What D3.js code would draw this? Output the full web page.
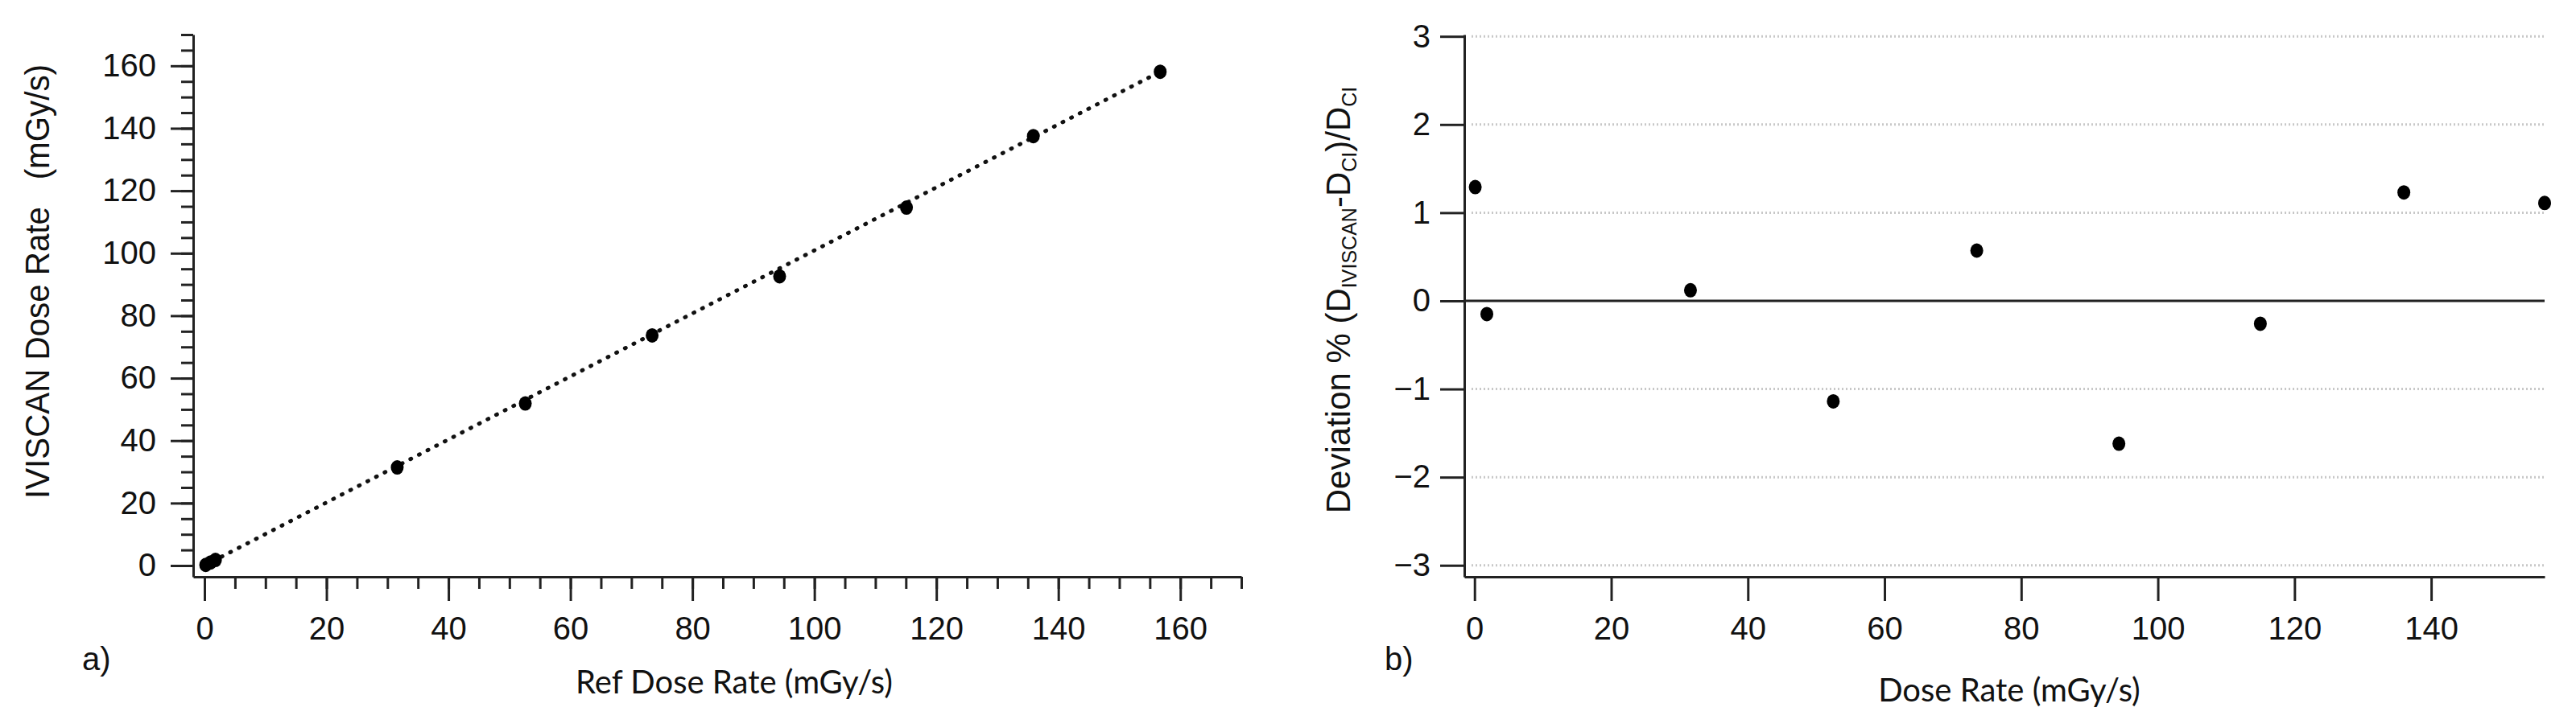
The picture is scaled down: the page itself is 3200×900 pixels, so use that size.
<!DOCTYPE html>
<html>
<head>
<meta charset="utf-8">
<script src="https://cdn.jsdelivr.net/npm/d3@7"></script>
<style>
  body { margin: 0; background: #fff; }
  svg text { fill: #111; }
  .tick text { font-family: "Liberation Sans", Arial, sans-serif; font-size: 40px; }
  .axis path, .axis line { stroke: #222; stroke-width: 3; }
  .minor path { display: none; }
</style>
</head>
<body>
<div id="chart"></div>
<script>
// panel a) IVISCAN vs reference dose rate
var refDose     = [0.2, 1.0, 1.8, 31.6, 52.6, 73.4, 94.3, 115.1, 135.9, 156.7];
var iviscanDose = [0.2, 1.0, 1.8, 31.4, 51.9, 73.7, 92.6, 114.6, 137.5, 158.1];
var fitX = [0, 156.7],
    fitY = [0, 158.1];

// panel b) deviation vs dose rate
var doseRate  = [0.1, 1.8, 31.6, 52.5, 73.5, 94.3, 115.0, 136.0, 156.6];
var deviation = [1.29, -0.15, 0.12, -1.14, 0.57, -1.62, -0.26, 1.23, 1.11];

var ticksA  = [0, 20, 40, 60, 80, 100, 120, 140, 160];
var minorA  = d3.range(0, 171, 5);
var ticksBx = [0, 20, 40, 60, 80, 100, 120, 140];
var ticksBy = [-3, -2, -1, 0, 1, 2, 3];

var svg = d3.select("#chart").append("svg")
  .attr("width", 3200)
  .attr("height", 900);

// ---------- panel a ----------
var xa = d3.scaleLinear().domain([-1.85, 170]).range([240, 1542]);
var ya = d3.scaleLinear().domain([-3.6, 170]).range([717, 43]);

// minor ticks first (no labels)
svg.append("g").attr("class", "axis minor")
  .attr("transform", "translate(0,717)")
  .call(d3.axisBottom(xa).tickValues(minorA).tickSize(15).tickFormat(""));
svg.append("g").attr("class", "axis minor")
  .attr("transform", "translate(240,0)")
  .call(d3.axisLeft(ya).tickValues(minorA).tickSize(15).tickFormat(""));

svg.append("g").attr("class", "axis")
  .attr("transform", "translate(0,717)")
  .call(d3.axisBottom(xa).tickValues(ticksA).tickSize(30).tickPadding(20).tickSizeOuter(0));
svg.append("g").attr("class", "axis")
  .attr("transform", "translate(240,0)")
  .call(d3.axisLeft(ya).tickValues(ticksA).tickSize(28).tickPadding(18).tickSizeOuter(0));

// dotted fit line
svg.append("path")
  .datum(fitX.map((d, i) => [d, fitY[i]]))
  .attr("d", d3.line().x(d => xa(d[0])).y(d => ya(d[1])))
  .style("fill", "none")
  .style("stroke", "#111")
  .style("stroke-width", 5)
  .style("stroke-linecap", "round")
  .style("stroke-dasharray", "1,11");

svg.append("g").selectAll("ellipse")
  .data(refDose)
  .enter()
  .append("ellipse")
  .attr("cx", d => xa(d))
  .attr("cy", (d, i) => ya(iviscanDose[i]))
  .attr("rx", 8).attr("ry", 9)
  .style("fill", "#000");

svg.append("text")
  .attr("transform", "translate(61,350) rotate(-90)")
  .attr("text-anchor", "middle")
  .attr("textLength", 540)
  .attr("lengthAdjust", "spacingAndGlyphs")
  .style("white-space", "pre")
  .style("font-family", "'Liberation Sans', Arial, sans-serif")
  .style("font-size", "43px")
  .text("IVISCAN Dose Rate   (mGy/s)");

svg.append("text")
  .attr("x", 912).attr("y", 862)
  .attr("text-anchor", "middle")
  .style("font-family", "Lato, sans-serif")
  .style("font-size", "40px")
  .text("Ref Dose Rate (mGy/s)");

svg.append("text")
  .attr("x", 102).attr("y", 833)
  .style("font-family", "'Liberation Sans', Arial, sans-serif")
  .style("font-size", "40px")
  .text("a)");

// ---------- panel b ----------
var xb = d3.scaleLinear().domain([-1.5, 156.6]).range([1819, 3161]);
var yb = d3.scaleLinear().domain([-3.13, 3.02]).range([717, 43]);

// dotted grid
svg.append("g").selectAll("line")
  .data(ticksBy.filter(d => d !== 0))
  .enter()
  .append("line")
  .attr("x1", 1828).attr("x2", xb(156.6))
  .attr("y1", d => yb(d)).attr("y2", d => yb(d))
  .style("stroke", "#c8c8c8")
  .style("stroke-width", 3)
  .style("stroke-dasharray", "2,3");

// zero line
svg.append("line")
  .attr("x1", xb(-1.5)).attr("x2", xb(156.6))
  .attr("y1", yb(0)).attr("y2", yb(0))
  .style("stroke", "#222")
  .style("stroke-width", 3);

svg.append("g").attr("class", "axis")
  .attr("transform", "translate(0,717)")
  .call(d3.axisBottom(xb).tickValues(ticksBx).tickSize(30).tickPadding(20).tickSizeOuter(0));
svg.append("g").attr("class", "axis")
  .attr("transform", "translate(1819,0)")
  .call(d3.axisLeft(yb).tickValues(ticksBy).tickSize(30).tickPadding(12)
    .tickFormat(d3.format("d")).tickSizeOuter(0));

svg.append("g").selectAll("ellipse")
  .data(doseRate)
  .enter()
  .append("ellipse")
  .attr("cx", d => xb(d))
  .attr("cy", (d, i) => yb(deviation[i]))
  .attr("rx", 8).attr("ry", 9)
  .style("fill", "#000");

var ylab = svg.append("text")
  .attr("transform", "translate(1677,373) rotate(-90)")
  .attr("text-anchor", "middle")
  .style("font-family", "'Liberation Sans', Arial, sans-serif")
  .style("font-size", "42px");
ylab.append("tspan").text("Deviation % (D");
ylab.append("tspan").attr("dy", 8).style("font-size", "25px").text("IVISCAN");
ylab.append("tspan").attr("dy", -8).text("-D");
ylab.append("tspan").attr("dy", 8).style("font-size", "25px").text("CI");
ylab.append("tspan").attr("dy", -8).text(")/D");
ylab.append("tspan").attr("dy", 8).style("font-size", "25px").text("CI");

svg.append("text")
  .attr("x", 2496).attr("y", 872)
  .attr("text-anchor", "middle")
  .style("font-family", "Lato, sans-serif")
  .style("font-size", "40px")
  .text("Dose Rate (mGy/s)");

svg.append("text")
  .attr("x", 1720).attr("y", 833)
  .style("font-family", "'Liberation Sans', Arial, sans-serif")
  .style("font-size", "40px")
  .text("b)");
</script>
</body>
</html>
